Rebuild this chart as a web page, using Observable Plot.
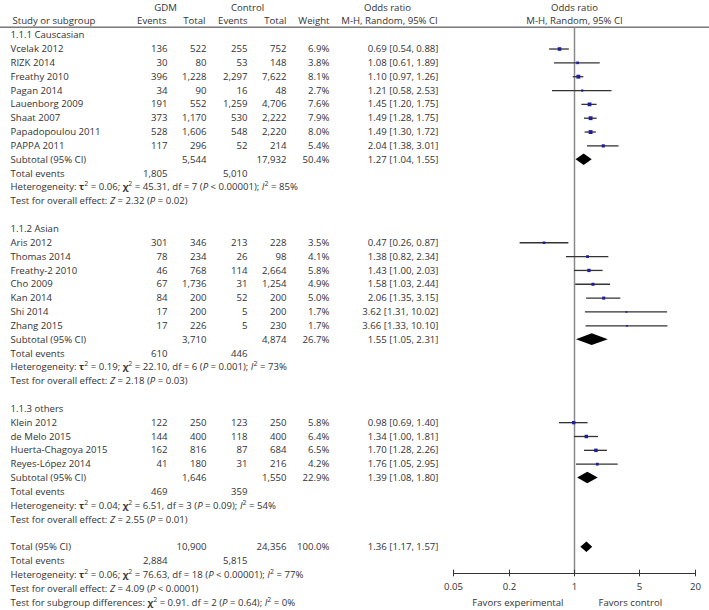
<!DOCTYPE html>
<html><head><meta charset="utf-8">
<script src="https://cdn.jsdelivr.net/npm/d3@7"></script>
<script src="https://cdn.jsdelivr.net/npm/@observablehq/plot@0.6"></script>
<style>body{margin:0;background:#fff}</style>
</head><body><div id="chart"></div>
<script>
// ---------- data ----------
const studyNames = ["Vcelak 2012","RIZK 2014","Freathy 2010","Pagan 2014","Lauenborg 2009","Shaat 2007","Papadopoulou 2011","PAPPA 2011",
  "Aris 2012","Thomas 2014","Freathy-2 2010","Cho 2009","Kan 2014","Shi 2014","Zhang 2015",
  "Klein 2012","de Melo 2015","Huerta-Chagoya 2015","Reyes-López 2014"];
const studyGroup = [0,0,0,0,0,0,0,0, 1,1,1,1,1,1,1, 2,2,2,2];
const gdmEvents  = [136,30,396,34,191,373,528,117, 301,78,46,67,84,17,17, 122,144,162,41];
const gdmTotal   = [522,80,1228,90,552,1170,1606,296, 346,234,768,1736,200,200,226, 250,400,816,180];
const ctrlEvents = [255,53,2297,16,1259,530,548,52, 213,26,114,31,52,5,5, 123,118,87,31];
const ctrlTotal  = [752,148,7622,48,4706,2222,2220,214, 228,98,2664,1254,200,200,230, 250,400,684,216];
const studyWeight = [6.9,3.8,8.1,2.7,7.6,7.9,8.0,5.4, 3.5,4.1,5.8,4.9,5.0,1.7,1.7, 5.8,6.4,6.5,4.2];
const studyOR = [0.69,1.08,1.10,1.21,1.45,1.49,1.49,2.04, 0.47,1.38,1.43,1.58,2.06,3.62,3.66, 0.98,1.34,1.70,1.76];
const studyLo = [0.54,0.61,0.97,0.58,1.20,1.28,1.30,1.38, 0.26,0.82,1.00,1.03,1.35,1.31,1.33, 0.69,1.00,1.28,1.05];
const studyHi = [0.88,1.89,1.26,2.53,1.75,1.75,1.72,3.01, 0.87,2.34,2.03,2.44,3.15,10.02,10.10, 1.40,1.81,2.26,2.95];

const groupLabels = ["1.1.1 Causcasian","1.1.2 Asian","1.1.3 others"];
const subGdmTotal = [5544,3710,1646];
const subCtrlTotal = [17932,4874,1550];
const subWeight = [50.4,26.7,22.9];
const subOR = [1.27,1.55,1.39];
const subLo = [1.04,1.05,1.08];
const subHi = [1.55,2.31,1.80];
const subGdmEvents = [1805,610,469];
const subCtrlEvents = [5010,446,359];
const hetTau2 = ["0.06","0.19","0.04"];
const hetChi2 = ["45.31","22.10","6.51"];
const hetDf = [7,6,3];
const hetP = ["< 0.00001","= 0.001","= 0.09"];
const hetI2 = [85,73,54];
const effZ = ["2.32","2.18","2.55"];
const effP = ["= 0.02","= 0.03","= 0.01"];

const overallTotals = [10900, 24356];      // GDM total, control total
const overallWeight = 100.0;
const overallCI = [1.36, 1.17, 1.57];      // OR, lower, upper
const overallEvents = [2884, 5815];
const overallHet = ["0.06","76.63",18,"< 0.00001",77];
const overallEffect = ["4.09","< 0.0001"];
const subgroupDiff = ["0.91",2,"= 0.64",0];

const xTicks = [0.05, 0.2, 1, 5, 20];
const headerTop = ["GDM","Control","Odds ratio","Odds ratio"];
const headerSub = ["Study or subgroup","Events","Total","Events","Total","Weight","M-H, Random, 95% CI","M-H, Random, 95% CI"];
const favorLabels = ["Favors experimental","Favors control"];

// ---------- build table rows ----------
const fN = d3.format(",");
const f2 = d3.format(".2f");
const fW = w => d3.format(".1f")(w) + "%";
const orText = (o, l, h) => `${f2(o)} [${f2(l)}, ${f2(h)}]`;
const hetText = (t, c, df, p, i2) => `Heterogeneity: {b:τ}{sup:2} = ${t}; {b:χ}{sup:2} = ${c}, df = ${df} ({i:P} ${p}); {i:I}{sup:2} = ${i2}%`;
const effText = (z, p) => `Test for overall effect: {i:Z} = ${z} ({i:P} ${p})`;

const rows = [];
let r = 0;
groupLabels.forEach((g, gi) => {
  rows.push({row: r++, label: g});
  studyNames.forEach((n, i) => {
    if (studyGroup[i] !== gi) return;
    rows.push({row: r++, label: n, ge: fN(gdmEvents[i]), gt: fN(gdmTotal[i]), ce: fN(ctrlEvents[i]), ct: fN(ctrlTotal[i]),
      w: fW(studyWeight[i]), ort: orText(studyOR[i], studyLo[i], studyHi[i]), kind: "study",
      or: studyOR[i], lo: studyLo[i], hi: studyHi[i], weight: studyWeight[i]});
  });
  rows.push({row: r++, label: "Subtotal (95% CI)", gt: fN(subGdmTotal[gi]), ct: fN(subCtrlTotal[gi]), w: fW(subWeight[gi]),
    ort: orText(subOR[gi], subLo[gi], subHi[gi]), kind: "sub", or: subOR[gi], lo: subLo[gi], hi: subHi[gi]});
  rows.push({row: r++, label: "Total events", ge: fN(subGdmEvents[gi]), ce: fN(subCtrlEvents[gi])});
  rows.push({row: r++, label: hetText(hetTau2[gi], hetChi2[gi], hetDf[gi], hetP[gi], hetI2[gi])});
  rows.push({row: r++, label: effText(effZ[gi], effP[gi])});
  r++;
});
rows.push({row: r++, label: "Total (95% CI)", gt: fN(overallTotals[0]), ct: fN(overallTotals[1]), w: fW(overallWeight),
  ort: orText(...overallCI), kind: "total", or: overallCI[0], lo: overallCI[1], hi: overallCI[2]});
rows.push({row: r++, label: "Total events", ge: fN(overallEvents[0]), ce: fN(overallEvents[1])});
rows.push({row: r++, label: hetText(...overallHet)});
rows.push({row: r++, label: effText(...overallEffect)});
const favorRow = r;
rows.push({row: r++, label: `Test for subgroup differences: {b:χ}{sup:2} = ${subgroupDiff[0]}. df = ${subgroupDiff[1]} ({i:P} ${subgroupDiff[2]}); {i:I}{sup:2} = ${subgroupDiff[3]}%`});

const studies = rows.filter(d => d.kind === "study");
const diamonds = rows.filter(d => d.kind === "sub" || d.kind === "total").flatMap(d => {
  const h = d.kind === "total" ? 0.38 : 0.42;
  return [
    {id: d.row, x: d.lo, y1: d.row, y2: d.row},
    {id: d.row, x: d.or, y1: d.row - h, y2: d.row + h},
    {id: d.row, x: d.hi, y1: d.row, y2: d.row}
  ];
});

// ---------- layout ----------
const W = 709, H = 610;
const mL = 453, mR = 14, mT = 7, mB = 37;
const yBottom = 38.9;          // row position of the axis line
const headerRule = -0.58;      // row position of the header rule
const dxAt = px => px - mL;    // column offsets relative to the frame's left edge
const ink = "#333";

const colText = (key, px, anchor = "end") =>
  Plot.text(rows.filter(d => d[key] != null), {y: "row", text: key, frameAnchor: "left", textAnchor: anchor, dx: dxAt(px)});

const hdr = (labels, row, spec) => labels.map((t, i) => Plot.text([t], {
  y: () => row, text: d => d, frameAnchor: spec[i][2] === "x1" ? undefined : "left",
  x: spec[i][2] === "x1" ? () => 1 : undefined,
  textAnchor: spec[i][1], dx: spec[i][2] === "x1" ? 0 : dxAt(spec[i][0])
}));

const chart = Plot.plot({
  width: W, height: H,
  marginLeft: mL, marginRight: mR, marginTop: mT, marginBottom: mB,
  style: {fontFamily: "'Open Sans', Lato, sans-serif", fontSize: "9.6px", color: ink, background: "#fff"},
  x: {type: "log", domain: [0.05, 20], axis: null},
  y: {domain: [-2, yBottom], reverse: true, axis: null},
  r: {domain: [0, 8.1], range: [0, 2.2]},
  marks: [
    // header
    ...hdr(headerTop, -2, [[165,"middle"],[247,"middle"],[387,"middle"],[0,"middle","x1"]]),
    ...hdr(headerSub, -1, [[12,"start"],[166,"end"],[205,"end"],[247,"end"],[286,"end"],[329,"end"],[389,"middle"],[0,"middle","x1"]]),
    Plot.ruleY([headerRule], {insetLeft: -mL, insetRight: -mR, stroke: "#333", strokeWidth: 1}),
    // table
    colText("label", 10, "start"),
    colText("ge", 167), colText("gt", 206), colText("ce", 247), colText("ct", 286), colText("w", 329), colText("ort", 438),
    // forest
    Plot.ruleX([1], {insetTop: 20, stroke: "#8a8a8a", strokeWidth: 1.5}),
    Plot.ruleY(studies, {y: "row", x1: "lo", x2: "hi", stroke: "#333", strokeWidth: 1.3}),
    Plot.dot(studies, {x: "or", y: "row", r: "weight", symbol: "square", fill: "#1f1f9a", stroke: null}),
    Plot.areaY(diamonds, {x: "x", y1: "y1", y2: "y2", z: "id", fill: "#000", curve: "linear"}),
    // axis
    Plot.ruleY([yBottom], {stroke: "#333", strokeWidth: 1}),
    Plot.ruleX(xTicks, {x: d => d, y1: () => yBottom, y2: () => yBottom, insetTop: -3.3, insetBottom: -3.3, stroke: "#333"}),
    Plot.text(xTicks, {x: d => d, y: () => yBottom, dy: 13.5, text: d => String(d)}),
    Plot.text([favorLabels[0]], {x: () => 1, y: () => favorRow, text: d => d, textAnchor: "end", dx: -11}),
    Plot.text([favorLabels[1]], {x: () => 1, y: () => favorRow, text: d => d, textAnchor: "start", dx: 24})
  ]
});

// rich text: bold / italic / superscript segments
d3.select(chart).selectAll("text").each(function() {
  const s = this.textContent;
  if (!s.includes("{")) return;
  this.textContent = "";
  const re = /\{(b|i|sup):([^}]*)\}/g;
  let last = 0, m, raised = false;
  const add = (txt, kind) => {
    const ts = document.createElementNS("http://www.w3.org/2000/svg", "tspan");
    ts.textContent = txt;
    if (kind === "b") ts.setAttribute("font-weight", "bold");
    if (kind === "i") ts.setAttribute("font-style", "italic");
    if (kind === "sup") { ts.setAttribute("font-size", "7"); ts.setAttribute("dy", "-4"); raised = true; }
    else if (raised) { ts.setAttribute("dy", "4"); raised = false; }
    this.appendChild(ts);
  };
  while ((m = re.exec(s))) {
    if (m.index > last) add(s.slice(last, m.index), "n");
    add(m[2], m[1]);
    last = re.lastIndex;
  }
  if (last < s.length) add(s.slice(last), "n");
});

document.getElementById("chart").appendChild(chart);
</script>
</body></html>
